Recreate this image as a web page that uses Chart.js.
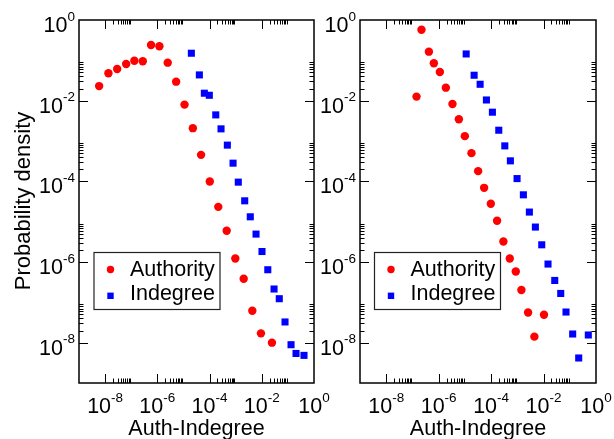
<!DOCTYPE html>
<html><head><meta charset="utf-8">
<script src="https://cdn.jsdelivr.net/npm/chart.js@4/dist/chart.umd.min.js"></script>
<style>
html,body{margin:0;padding:0;background:#fff;}
#wrap{position:relative;width:614px;height:439px;overflow:hidden;background:#fff;}
canvas{position:absolute;left:0;top:0;}
</style></head><body>
<div id="wrap"><canvas id="c1" width="614" height="439"></canvas><canvas id="c2" width="614" height="439"></canvas></div>
<script>
// ---- data ----
const seriesNames = ['Authority', 'Indegree'];
const xAxisTitle = 'Auth-Indegree';
const yAxisTitle = 'Probability density';
const xTickExponents = [-8, -6, -4, -2, 0];
const yTickExponents = [0, -2, -4, -6, -8];

const leftAuthX = [5.9e-9, 1.34e-8, 2.9e-8, 6.4e-8, 1.32e-7, 2.77e-7, 5.75e-7, 1.2e-6, 2.5e-6, 5.25e-6, 1.1e-5, 2.29e-5, 4.73e-5, 1.02e-4, 2.16e-4, 4.53e-4, 9.7e-4, 2.03e-3, 4.34e-3, 9.3e-3, 2.45e-2];
const leftAuthY = [2.3e-2, 4.8e-2, 6.1e-2, 8.1e-2, 9.8e-2, 9.5e-2, 0.24, 0.223, 8.75e-2, 2.96e-2, 7.98e-3, 2.08e-3, 4.53e-4, 9.9e-5, 2.33e-5, 5.94e-6, 1.22e-6, 3.85e-7, 6.2e-8, 1.7e-8, 1.0e-8];
const leftIndegX = [2.01e-5, 4.07e-5, 6.32e-5, 9.8e-5, 1.73e-4, 2.75e-4, 4.8e-4, 7.94e-4, 1.26e-3, 2.22e-3, 3.63e-3, 6.03e-3, 1.02e-2, 1.7e-2, 2.95e-2, 4.68e-2, 7.76e-2, 0.132, 0.205, 0.414];
const leftIndegY = [0.15, 4.35e-2, 1.53e-2, 1.36e-2, 4.44e-3, 2.0e-3, 7.9e-4, 2.82e-4, 9.55e-5, 3.29e-5, 1.32e-5, 4.92e-6, 1.82e-6, 6.43e-7, 2.14e-7, 1.23e-7, 3.26e-8, 8.9e-9, 5.4e-9, 4.84e-9];

const rightAuthX = [1.43e-7, 2.21e-7, 4.24e-7, 6.56e-7, 1.11e-6, 1.88e-6, 3.36e-6, 5.89e-6, 9.95e-6, 1.78e-5, 3.2e-5, 5.41e-5, 9.75e-5, 1.69e-4, 2.94e-4, 5.15e-4, 8.73e-4, 1.43e-3, 2.57e-3, 4.47e-3, 1.04e-2];
const rightAuthY = [1.26e-2, 0.575, 0.164, 8.45e-2, 5.15e-2, 2.1e-2, 8.3e-3, 3.47e-3, 1.32e-3, 5.0e-4, 1.79e-4, 6.9e-5, 2.77e-5, 1.05e-5, 3.23e-6, 1.22e-6, 5.83e-7, 2.02e-7, 5.62e-8, 1.41e-8, 4.94e-8];
const rightIndegX = [1.12e-5, 2.25e-5, 3.81e-5, 6.62e-5, 1.12e-4, 1.96e-4, 3.33e-4, 5.43e-4, 9.77e-4, 1.7e-3, 2.88e-3, 4.88e-3, 8.53e-3, 1.48e-2, 2.67e-2, 4.52e-2, 7.19e-2, 0.129, 0.219, 0.509];
const rightIndegY = [0.144, 4.27e-2, 2.55e-2, 1.04e-2, 5.18e-3, 1.85e-3, 7.57e-4, 3.22e-4, 1.17e-4, 4.63e-5, 1.73e-5, 7.35e-6, 2.67e-6, 8.89e-7, 3.49e-7, 1.66e-7, 5.75e-8, 1.64e-8, 4.17e-9, 1.55e-8];

// ---- rendering ----
const FONT = '"Liberation Sans", Arial, Helvetica, sans-serif';
const toPts = (xs, ys) => xs.map((x, i) => ({x: x, y: ys[i]}));

function pow10Label(ctx, e, x, y, align) {
  ctx.font = '21.5px ' + FONT;
  const wb = ctx.measureText('10').width;
  ctx.font = '13.5px ' + FONT;
  const ex = String(e);
  const we = ctx.measureText(ex).width;
  const total = wb + we;
  const x0 = align === 'center' ? x - total / 2 : x - total;
  ctx.textAlign = 'left';
  ctx.textBaseline = 'alphabetic';
  ctx.font = '21.5px ' + FONT;
  ctx.fillText('10', x0, y);
  ctx.font = '13.5px ' + FONT;
  ctx.fillText(ex, x0 + wb, y - 11.5);
}

const framePlugin = {
  id: 'frame',
  afterDraw(chart, args, opts) {
    const ctx = chart.ctx, a = chart.chartArea;
    const xs = chart.scales.x, ys = chart.scales.y;
    ctx.save();
    ctx.fillStyle = '#000';
    ctx.strokeStyle = '#000';
    ctx.lineWidth = 1;
    ctx.beginPath();
    for (const e of [-8, -6, -4, -2]) {
      for (let k = 1; k <= 9; k++) {
        const v = k * Math.pow(10, e);
        const len = k === 1 ? 9 : 4.5;
        const px = Math.round(xs.getPixelForValue(v)) + 0.5;
        if (px > a.left + 1 && px < a.right - 1) {
          ctx.moveTo(px, a.bottom); ctx.lineTo(px, a.bottom - len);
          ctx.moveTo(px, a.top); ctx.lineTo(px, a.top + len);
        }
        const py = Math.round(ys.getPixelForValue(v)) + 0.5;
        if (py > a.top + 1 && py < a.bottom - 1) {
          ctx.moveTo(a.left, py); ctx.lineTo(a.left + len, py);
          ctx.moveTo(a.right, py); ctx.lineTo(a.right - len, py);
        }
      }
    }
    ctx.stroke();
    ctx.lineWidth = 1.5;
    ctx.strokeRect(a.left, a.top, a.right - a.left, a.bottom - a.top);

    // tick labels
    for (const e of xTickExponents) {
      pow10Label(ctx, e, xs.getPixelForValue(Math.pow(10, e)), a.bottom + 30, 'center');
    }
    for (const e of yTickExponents) {
      pow10Label(ctx, e, a.left - 4, ys.getPixelForValue(Math.pow(10, e)) + 12, 'right');
    }

    // axis titles
    ctx.font = '21.5px ' + FONT;
    ctx.textAlign = 'center';
    ctx.textBaseline = 'alphabetic';
    ctx.fillText(xAxisTitle, (a.left + a.right) / 2, 435);
    if (opts.yTitle) {
      ctx.save();
      ctx.translate(29.5, 201);
      ctx.rotate(-Math.PI / 2);
      ctx.font = '22px ' + FONT;
      ctx.fillText(yAxisTitle, 0, 0);
      ctx.restore();
    }

    // legend box
    const lx = opts.legendX, ly = 252.5, lw = 126, lh = 57;
    ctx.fillStyle = '#fff';
    ctx.fillRect(lx, ly, lw, lh);
    ctx.strokeStyle = '#222';
    ctx.lineWidth = 1.2;
    ctx.strokeRect(lx, ly, lw, lh);
    const ds = chart.data.datasets;
    ctx.fillStyle = ds[0].backgroundColor;
    ctx.beginPath(); ctx.arc(lx + 16.5, ly + 17, 3.7, 0, Math.PI * 2); ctx.fill();
    ctx.fillStyle = ds[1].backgroundColor;
    ctx.fillRect(lx + 16.5 - 3.2, ly + 43.3 - 3.2, 6.4, 6.4);
    ctx.fillStyle = '#000';
    ctx.font = '21.5px ' + FONT;
    ctx.textAlign = 'left';
    ctx.fillText(ds[0].label, lx + 36, ly + 23.3);
    ctx.fillText(ds[1].label, lx + 36, ly + 47.6);
    ctx.restore();
  }
};

function makeChart(id, authX, authY, indX, indY, pad, frameOpts) {
  return new Chart(document.getElementById(id), {
    type: 'scatter',
    data: {
      datasets: [
        {label: seriesNames[0], data: toPts(authX, authY), backgroundColor: '#ff0000', borderColor: '#ff0000', borderWidth: 0, pointStyle: 'circle', pointRadius: 4.2},
        {label: seriesNames[1], data: toPts(indX, indY), backgroundColor: '#0000ff', borderColor: '#0000ff', borderWidth: 0, pointStyle: 'rect', pointRadius: 5}
      ]
    },
    options: {
      responsive: false,
      animation: false,
      events: [],
      layout: {padding: pad},
      scales: {
        x: {type: 'logarithmic', min: 1e-9, max: 1, display: false},
        y: {type: 'logarithmic', min: 1e-9, max: 1, display: false}
      },
      plugins: {legend: {display: false}, tooltip: {enabled: false}, frame: frameOpts}
    },
    plugins: [framePlugin]
  });
}

makeChart('c1', leftAuthX, leftAuthY, leftIndegX, leftIndegY,
  {left: 79, right: 300, top: 20, bottom: 56}, {yTitle: true, legendX: 94});
makeChart('c2', rightAuthX, rightAuthY, rightIndegX, rightIndegY,
  {left: 360, right: 18, top: 20, bottom: 56}, {yTitle: false, legendX: 374.5});
</script>
</body></html>
